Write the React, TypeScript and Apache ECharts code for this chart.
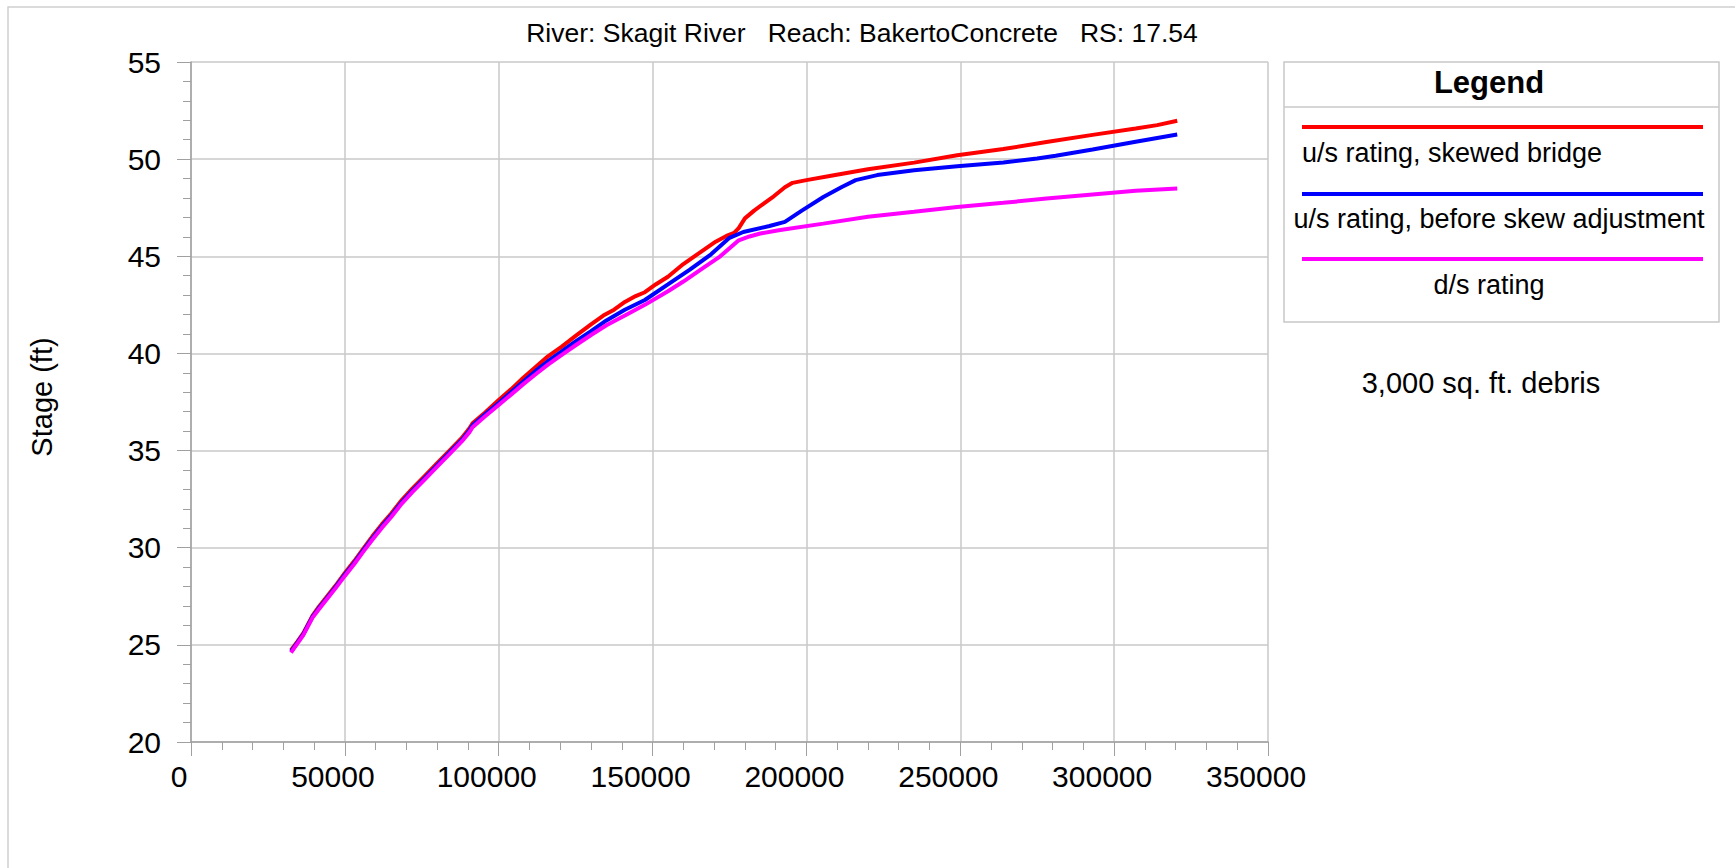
import React, { useEffect, useRef } from "react";
import * as echarts from "echarts";

const titleText = "River: Skagit River   Reach: BakertoConcrete   RS: 17.54";
const yAxisTitle = "Stage (ft)";
const legendTitle = "Legend";
const seriesNames = ["u/s rating, skewed bridge", "u/s rating, before skew adjustment", "d/s rating"];
const seriesColors = ["#ff0000", "#0000ff", "#ff00ff"];
const noteText = "3,000 sq. ft. debris";

const xMin = 0;
const xMax = 350000;
const xInterval = 50000;
const yMin = 20;
const yMax = 55;
const yInterval = 5;

const usSkewed: [number, number][] = [
  [32500, 24.72], [34500, 25.15], [36500, 25.6], [38000, 26.05], [39500, 26.5], [41500, 26.95],
  [44000, 27.45], [47000, 28.05], [50000, 28.7], [53000, 29.3], [56000, 29.95], [59000, 30.6],
  [62000, 31.2], [65000, 31.75], [68500, 32.45], [72000, 33.05], [76000, 33.7], [80000, 34.35],
  [84000, 35.0], [88000, 35.65], [90500, 36.15], [91500, 36.4], [95500, 36.95], [100000, 37.6],
  [104000, 38.15], [108000, 38.75], [112000, 39.3], [116000, 39.85], [120500, 40.35], [125000, 40.9],
  [130000, 41.5], [134000, 41.95], [137500, 42.25], [141000, 42.65], [144500, 42.95], [147500, 43.15],
  [151000, 43.55], [155000, 43.95], [160000, 44.6], [165000, 45.15], [170500, 45.75], [174000, 46.05],
  [176500, 46.2], [178000, 46.45], [180000, 46.95], [183000, 47.35], [186000, 47.7], [189500, 48.1],
  [193000, 48.55], [195500, 48.78], [200000, 48.92], [208000, 49.15], [220000, 49.48], [235000, 49.82],
  [249000, 50.2], [264000, 50.52], [278000, 50.88], [293000, 51.25], [307000, 51.58], [314000, 51.75],
  [320500, 51.98],
];

const usBeforeSkew: [number, number][] = [
  [32500, 24.66], [34500, 25.1], [36500, 25.55], [38000, 26.0], [39500, 26.45], [41500, 26.88],
  [44000, 27.38], [47000, 27.98], [50000, 28.62], [53000, 29.22], [56000, 29.87], [59000, 30.5],
  [62000, 31.1], [65000, 31.65], [68500, 32.35], [72000, 32.95], [76000, 33.6], [80000, 34.25],
  [84000, 34.9], [88000, 35.55], [90500, 36.05], [91500, 36.3], [95500, 36.85], [100000, 37.45],
  [104000, 38.0], [108000, 38.55], [112000, 39.1], [116000, 39.6], [120500, 40.1], [125000, 40.62],
  [130000, 41.15], [135000, 41.7], [141000, 42.25], [147500, 42.75], [155000, 43.55], [162000, 44.3],
  [169000, 45.1], [175000, 45.95], [179500, 46.25], [188000, 46.56], [193000, 46.77], [198500, 47.35],
  [205500, 48.05], [211500, 48.57], [216000, 48.92], [223000, 49.18], [235000, 49.43], [249000, 49.64],
  [264000, 49.83], [275000, 50.03], [281000, 50.17], [293000, 50.5], [307000, 50.9], [320500, 51.27],
];

const dsRating: [number, number][] = [
  [32500, 24.6], [34500, 25.05], [36500, 25.5], [38000, 25.95], [39500, 26.4], [41500, 26.82],
  [44000, 27.32], [47000, 27.92], [50000, 28.55], [53000, 29.15], [56000, 29.8], [59000, 30.42],
  [62000, 31.02], [65000, 31.57], [68500, 32.27], [72000, 32.87], [76000, 33.52], [80000, 34.17],
  [84000, 34.82], [88000, 35.47], [90500, 35.95], [91500, 36.2], [95500, 36.75], [100000, 37.35],
  [104000, 37.88], [108000, 38.42], [112000, 38.93], [116000, 39.42], [120500, 39.93], [125000, 40.42],
  [130000, 40.95], [135000, 41.45], [141000, 41.95], [147500, 42.5], [155000, 43.2], [160000, 43.7],
  [166000, 44.35], [172000, 45.0], [178000, 45.82], [181500, 46.02], [185000, 46.17], [191000, 46.34],
  [205500, 46.68], [220000, 47.03], [235000, 47.29], [249000, 47.54], [264000, 47.75], [278000, 47.97],
  [293000, 48.18], [307000, 48.37], [320500, 48.49],
];

const seriesData = [usSkewed, usBeforeSkew, dsRating];

const FONT = "'Liberation Sans', Arial, sans-serif";
const GRID_COLOR = "#c8c8c8";
const AXIS_COLOR = "#a0a0a0";

export default function App() {
  const ref = useRef<HTMLDivElement>(null);

  useEffect(() => {
    if (!ref.current) return;
    const chart = echarts.init(ref.current, undefined, { renderer: "svg" });

    const legendLineY = [127, 194, 259];
    const legendTextPos = [
      [1452, 153],
      [1499, 219],
      [1489, 285],
    ];

    const graphics: any[] = [
      {
        type: "rect",
        shape: { x: 8, y: 7, width: 1800, height: 1000 },
        style: { fill: "none", stroke: "#d0d0d0", lineWidth: 1.5 },
        silent: true,
        z: -10,
      },
      {
        type: "text",
        x: 862,
        y: 33,
        style: {
          text: titleText,
          font: `26.5px ${FONT}`,
          fill: "#000",
          align: "center",
          verticalAlign: "middle",
        },
      },
      {
        type: "text",
        x: 42,
        y: 397,
        rotation: Math.PI / 2,
        style: {
          text: yAxisTitle,
          font: `29px ${FONT}`,
          fill: "#000",
          align: "center",
          verticalAlign: "middle",
        },
      },
      {
        type: "rect",
        shape: { x: 1284, y: 62, width: 435, height: 260 },
        style: { fill: "#fff", stroke: GRID_COLOR, lineWidth: 1.5 },
      },
      {
        type: "line",
        shape: { x1: 1284, y1: 107, x2: 1719, y2: 107 },
        style: { stroke: GRID_COLOR, lineWidth: 1.5 },
      },
      {
        type: "text",
        x: 1489,
        y: 82,
        style: {
          text: legendTitle,
          font: `bold 31px ${FONT}`,
          fill: "#000",
          align: "center",
          verticalAlign: "middle",
        },
      },
      {
        type: "text",
        x: 1481,
        y: 383,
        style: {
          text: noteText,
          font: `29px ${FONT}`,
          fill: "#000",
          align: "center",
          verticalAlign: "middle",
        },
      },
    ];

    seriesNames.forEach((name, i) => {
      graphics.push({
        type: "line",
        shape: { x1: 1302, y1: legendLineY[i], x2: 1703, y2: legendLineY[i] },
        style: { stroke: seriesColors[i], lineWidth: 4 },
      });
      graphics.push({
        type: "text",
        x: legendTextPos[i][0],
        y: legendTextPos[i][1],
        style: {
          text: name,
          font: `27px ${FONT}`,
          fill: "#000",
          align: "center",
          verticalAlign: "middle",
        },
      });
    });

    chart.setOption({
      animation: false,
      backgroundColor: "#fff",
      grid: { left: 191, top: 62, width: 1077, height: 680, containLabel: false },
      xAxis: {
        type: "value",
        min: xMin,
        max: xMax,
        interval: xInterval,
        axisLine: { show: true, lineStyle: { color: AXIS_COLOR, width: 1.5 } },
        axisTick: { show: true, length: 14, lineStyle: { color: AXIS_COLOR } },
        minorTick: { show: true, splitNumber: 5, length: 8, lineStyle: { color: AXIS_COLOR } },
        splitLine: { show: true, lineStyle: { color: GRID_COLOR, width: 1.5 } },
        axisLabel: {
          color: "#000",
          fontSize: 30,
          fontFamily: FONT,
          margin: 19,
          padding: [0, 24, 0, 0],
          formatter: (v: number) => String(v),
        },
      },
      yAxis: {
        type: "value",
        min: yMin,
        max: yMax,
        interval: yInterval,
        axisLine: { show: true, lineStyle: { color: AXIS_COLOR, width: 1.5 } },
        axisTick: { show: true, length: 14, lineStyle: { color: AXIS_COLOR } },
        minorTick: { show: true, splitNumber: 5, length: 8, lineStyle: { color: AXIS_COLOR } },
        splitLine: { show: true, lineStyle: { color: GRID_COLOR, width: 1.5 } },
        axisLabel: {
          color: "#000",
          fontSize: 30,
          fontFamily: FONT,
          margin: 30,
          formatter: (v: number) => String(v),
        },
      },
      series: seriesData.map((d, i) => ({
        name: seriesNames[i],
        type: "line",
        data: d,
        showSymbol: false,
        symbol: "none",
        smooth: false,
        lineStyle: { color: seriesColors[i], width: 4 },
        itemStyle: { color: seriesColors[i] },
        z: 2 + i,
      })),
      graphic: graphics,
    });

    return () => chart.dispose();
  }, []);

  return (
    <div
      ref={ref}
      style={{ position: "fixed", left: 0, top: 0, width: 1735, height: 868, background: "#fff" }}
    />
  );
}
